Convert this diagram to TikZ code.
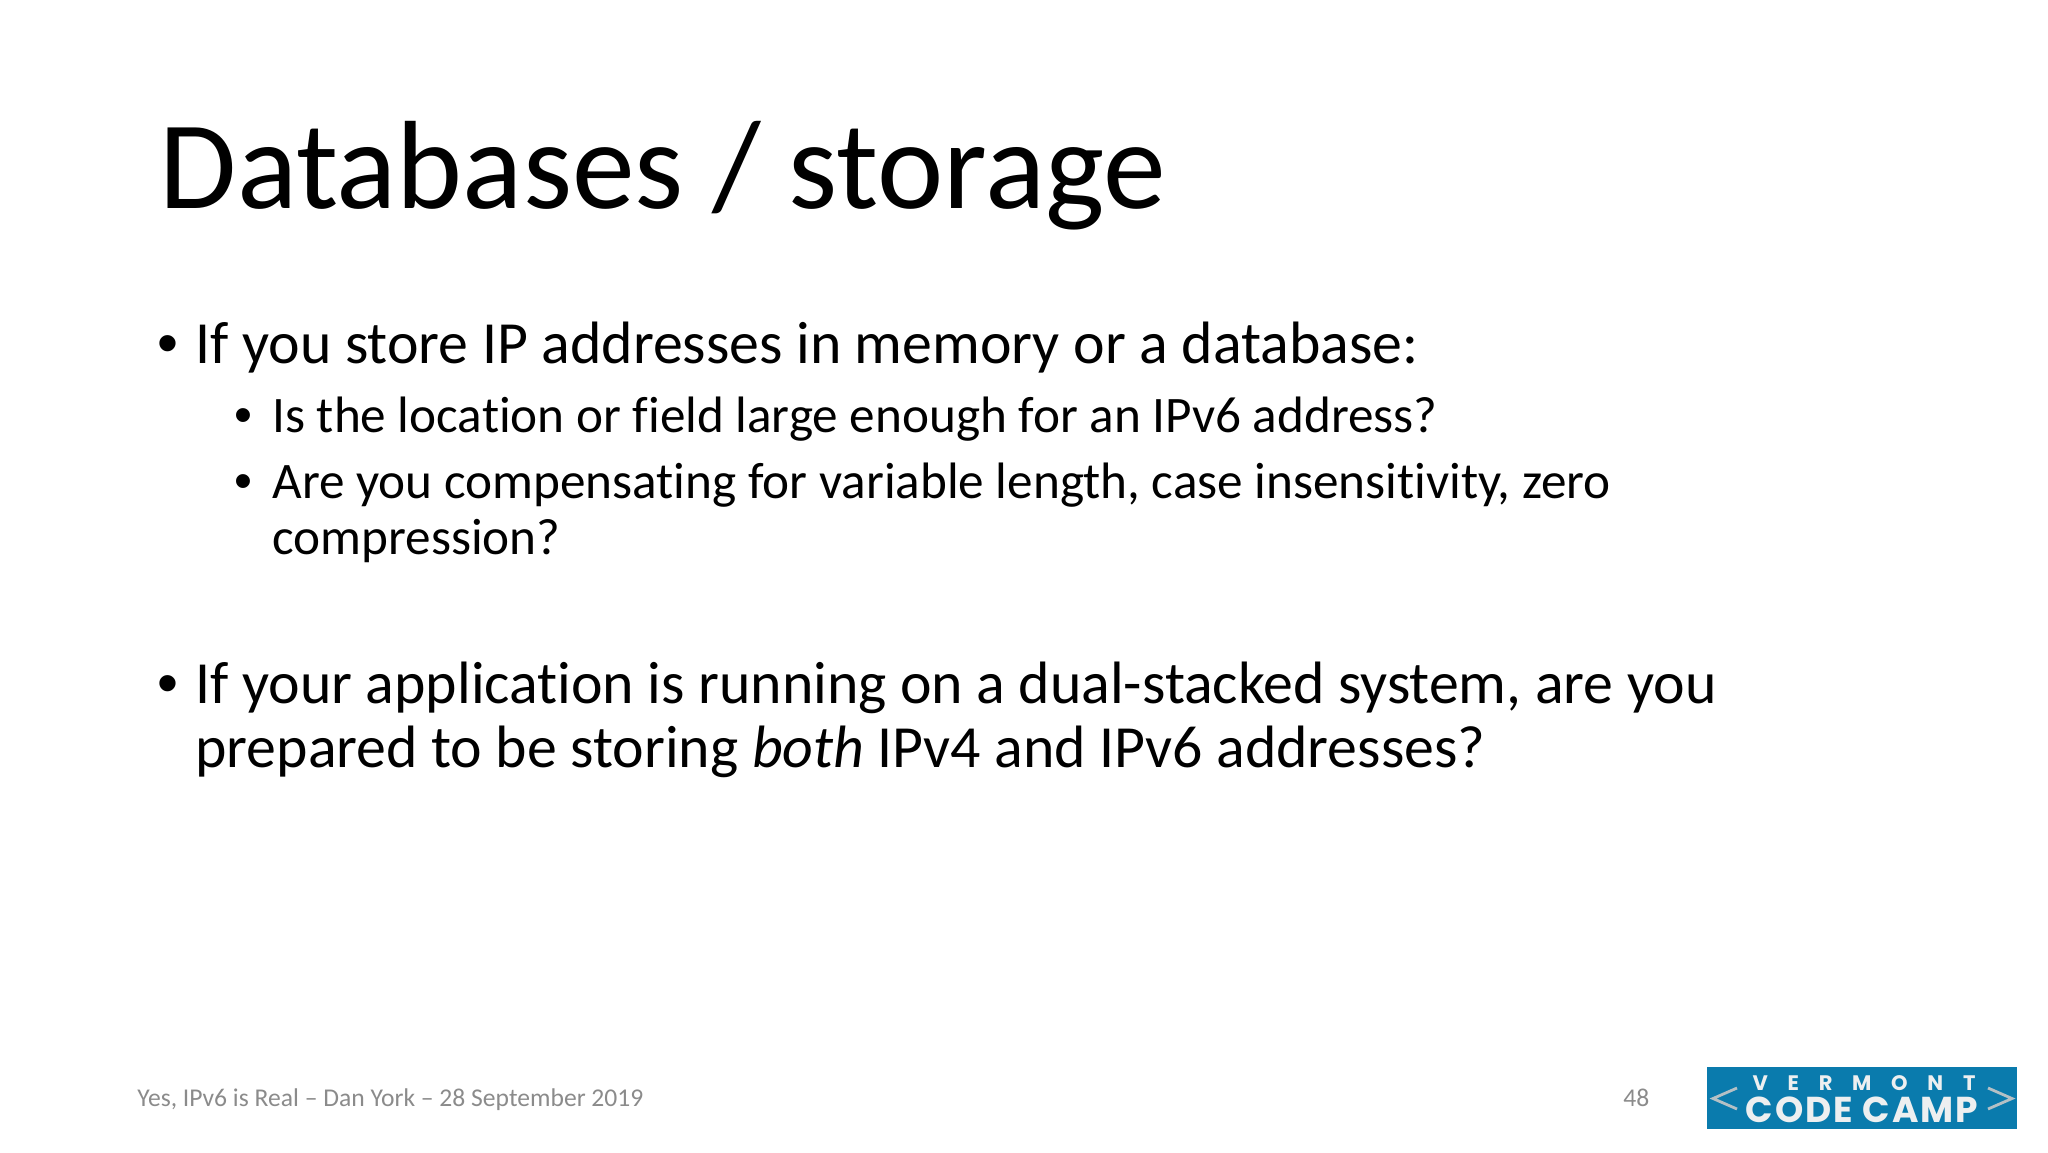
\documentclass[tikz,border=0pt]{standalone}
\usepackage{fontspec}
\setmainfont[Ligatures=NoCommon]{Carlito}
\newfontfamily\bulletfont{Liberation Sans}
\newfontfamily\logofont[LetterSpace=5.5]{Poppins}
\newfontfamily\logospaced[LetterSpace=94]{Poppins}
\definecolor{footgray}{HTML}{8B8B8B}
\definecolor{logoblue}{HTML}{0A7BAD}
\definecolor{logotext}{HTML}{EDEFF0}
\definecolor{logoarrow}{HTML}{B4C0C5}
\tikzset{
	titletext/.style={anchor=base west,inner sep=0pt,font=\fontsize{62.8}{62.8}\selectfont},
	bodytext/.style={anchor=base west,inner sep=0pt,font=\fontsize{29.9}{29.9}\selectfont},
	subtext/.style={anchor=base west,inner sep=0pt,font=\fontsize{25.6}{25.6}\selectfont},
	bodybull/.style={anchor=base west,inner sep=0pt,font=\bulletfont\fontsize{29.9}{29.9}\selectfont},
	subbull/.style={anchor=base west,inner sep=0pt,font=\bulletfont\fontsize{25.6}{25.6}\selectfont},
	foottext/.style={anchor=base west,inner sep=0pt,text=footgray,font=\fontsize{12.8}{12.8}\selectfont},
}
\begin{document}
\begin{tikzpicture}[x=0.5pt,y=-0.5pt]
	\useasboundingbox (0,0) rectangle (2048,1152);
	%title
	\node[titletext] (title) at (159.5,208) {Databases / storage};
	%first block
	\node[bodybull] (bull-1) at (157,363.5) {•};
	\node[bodytext] (line-1) at (195,363.5) {If you store IP addresses in memory or a database:};
	\node[subbull] (bull-2) at (234.5,432.5) {•};
	\node[subtext] (line-2) at (272,432.5) {Is the location or field large enough for an IPv6 address?};
	\node[subbull] (bull-3) at (234.5,498.5) {•};
	\node[subtext] (line-3) at (272,498.5) {Are you compensating for variable length, case insensitivity, zero};
	\node[subtext] (line-4) at (272,554.5) {compression?};
	%second block
	\node[bodybull] (bull-4) at (157,703.5) {•};
	\node[bodytext] (line-5) at (195,703.5) {If your application is running on a dual-stacked system, are you};
	\node[bodytext] (line-6) at (195,767.5) {prepared to be storing \textit{both} IPv4 and IPv6 addresses?};
	%footer
	\node[foottext] (foot) at (137,1106.5) {Yes, IPv6 is Real – Dan York – 28 September 2019};
	\node[foottext] (page) at (1623,1106.5) {48};
	%logo
	\fill[logoblue] (1707,1067) rectangle (2017,1129);
	\node[inner sep=0pt,text=logotext] (vermont) at (1864,1083.5) {\logospaced\bfseries\fontsize{10.5}{10.5}\selectfont VERMONT};
	\node[inner sep=0pt,text=logotext] (camp) at (1862,1110) {\logofont\bfseries\fontsize{18}{18}\selectfont CODE CAMP};
	\draw[logoarrow,line width=1.4pt] (1737,1088) -- (1713,1098.5) -- (1737,1109);
	\draw[logoarrow,line width=1.4pt] (1988,1088) -- (2012,1098.5) -- (1988,1109);
\end{tikzpicture}
\end{document}
